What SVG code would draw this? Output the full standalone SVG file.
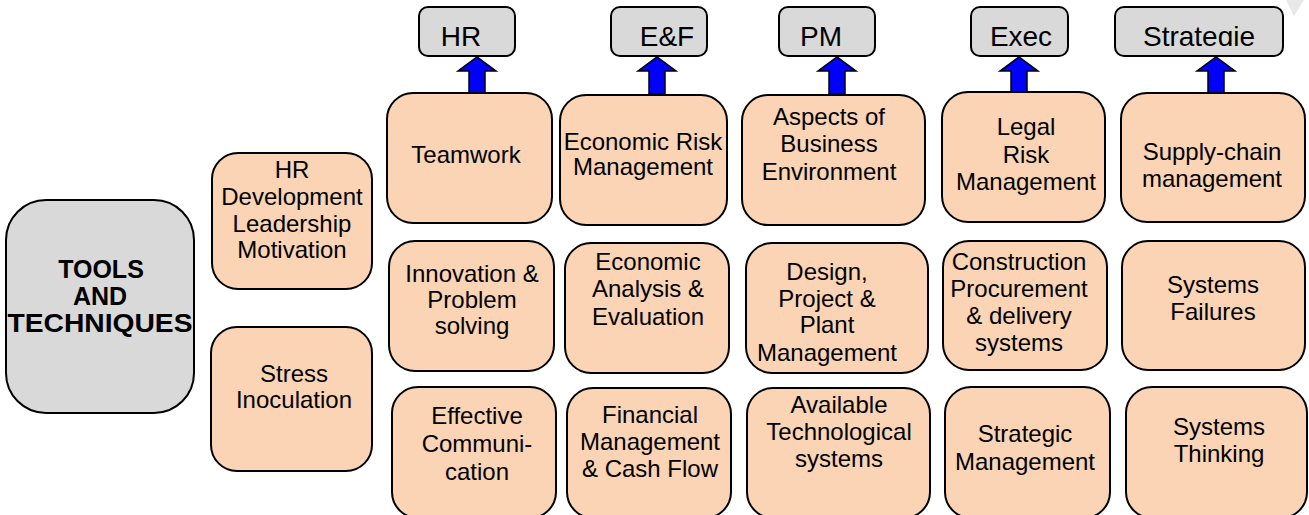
<svg xmlns="http://www.w3.org/2000/svg" width="1309" height="515" viewBox="0 0 1309 515">
<style>
.box{fill:#FAD4B4;stroke:#000;stroke-width:2}
.hdr{fill:#D9D9D9;stroke:#000;stroke-width:2}
.main{fill:#D9D9D9;stroke:#000;stroke-width:2}
.arr{fill:#0000FF;stroke:#000;stroke-width:1.5;stroke-linejoin:miter}
text{font-family:"Liberation Sans",Arial,sans-serif;fill:#000;text-anchor:middle}
.t{font-size:24px}
.h{font-size:28px}
.b{font-size:25px;font-weight:bold}
</style>
<defs>
<clipPath id="clipStrat"><rect x="1110" y="0" width="180" height="46"/></clipPath>
</defs>
<rect width="1309" height="515" fill="#fff"/>
<polygon points="1286,0 1304,0 1294,16" fill="#E8E8E8"/>

<g id="connectors">
<polygon class="arr" points="469,93 469,71 458,71 477,57 496,71 485,71 485,93"/>
<polygon class="arr" points="649,94 649,71 638,71 657,57 676,71 665,71 665,94"/>
<polygon class="arr" points="829,94 829,71 818,71 837,57 856,71 845,71 845,94"/>
<polygon class="arr" points="1011,92 1011,71 1000,71 1019,57 1038,71 1027,71 1027,92"/>
<polygon class="arr" points="1208,93 1208,71 1197,71 1216,57 1235,71 1224,71 1224,93"/>
</g>

<g id="hdr-hr"><rect class="hdr" x="419" y="7" width="96" height="49" rx="9"/><text class="h" x="461" y="46">HR</text></g>
<g id="hdr-ef"><rect class="hdr" x="611" y="7" width="96" height="49" rx="9"/><text class="h" x="667" y="46">E&amp;F</text></g>
<g id="hdr-pm"><rect class="hdr" x="779" y="7" width="96" height="49" rx="9"/><text class="h" x="821" y="46">PM</text></g>
<g id="hdr-exec"><rect class="hdr" x="971" y="7" width="97" height="49" rx="9"/><text class="h" x="1021" y="46">Exec</text></g>
<g id="hdr-strat"><rect class="hdr" x="1115" y="7" width="168" height="49" rx="9"/><text class="h" x="1199" y="46" clip-path="url(#clipStrat)">Strategie</text></g>

<g id="tools"><rect class="main" x="6" y="200" width="188" height="213" rx="40"/>
<text class="b" x="101" y="278">TOOLS</text>
<text class="b" x="100" y="305">AND</text>
<text class="b" x="100" y="332" textLength="185" lengthAdjust="spacingAndGlyphs">TECHNIQUES</text></g>

<g id="hrdev"><rect class="box" x="212" y="153" width="160" height="136" rx="26"/>
<text class="t" x="292" y="178">HR</text>
<text class="t" x="292" y="205">Development</text>
<text class="t" x="292" y="232">Leadership</text>
<text class="t" x="292" y="258">Motivation</text></g>

<g id="stress"><rect class="box" x="211" y="327" width="161" height="144" rx="26"/>
<text class="t" x="294" y="382">Stress</text>
<text class="t" x="294" y="408">Inoculation</text></g>

<g id="teamwork"><rect class="box" x="387" y="93" width="165" height="130" rx="26"/>
<text class="t" x="466" y="163">Teamwork</text></g>

<g id="innovation"><rect class="box" x="389" y="241" width="165" height="130" rx="26"/>
<text class="t" x="472" y="282">Innovation &amp;</text>
<text class="t" x="472" y="308">Problem</text>
<text class="t" x="472" y="334">solving</text></g>

<g id="effective"><rect class="box" x="392" y="387" width="164" height="131" rx="26"/>
<text class="t" x="477" y="424">Effective</text>
<text class="t" x="477" y="452">Communi-</text>
<text class="t" x="477" y="480">cation</text></g>

<g id="econrisk"><rect class="box" x="560" y="95" width="167" height="130" rx="26"/>
<text class="t" x="643" y="150">Economic Risk</text>
<text class="t" x="643" y="175">Management</text></g>

<g id="econanalysis"><rect class="box" x="565" y="243" width="164" height="130" rx="26"/>
<text class="t" x="648" y="270">Economic</text>
<text class="t" x="648" y="297">Analysis &amp;</text>
<text class="t" x="648" y="325">Evaluation</text></g>

<g id="financial"><rect class="box" x="567" y="388" width="164" height="130" rx="26"/>
<text class="t" x="650" y="423">Financial</text>
<text class="t" x="650" y="450">Management</text>
<text class="t" x="650" y="477">&amp; Cash Flow</text></g>

<g id="aspects"><rect class="box" x="742" y="95" width="183" height="130" rx="26"/>
<text class="t" x="829" y="125">Aspects of</text>
<text class="t" x="829" y="152">Business</text>
<text class="t" x="829" y="180">Environment</text></g>

<g id="design"><rect class="box" x="746" y="243" width="182" height="130" rx="26"/>
<text class="t" x="827" y="280">Design,</text>
<text class="t" x="827" y="307">Project &amp;</text>
<text class="t" x="827" y="333">Plant</text>
<text class="t" x="827" y="361">Management</text></g>

<g id="available"><rect class="box" x="747" y="388" width="183" height="130" rx="26"/>
<text class="t" x="839" y="413">Available</text>
<text class="t" x="839" y="440">Technological</text>
<text class="t" x="839" y="467">systems</text></g>

<g id="legal"><rect class="box" x="942" y="92" width="163" height="130" rx="26"/>
<text class="t" x="1026" y="135">Legal</text>
<text class="t" x="1026" y="163">Risk</text>
<text class="t" x="1026" y="190">Management</text></g>

<g id="construction"><rect class="box" x="943" y="241" width="164" height="129" rx="26"/>
<text class="t" x="1019" y="270">Construction</text>
<text class="t" x="1019" y="297">Procurement</text>
<text class="t" x="1019" y="324">&amp; delivery</text>
<text class="t" x="1019" y="351">systems</text></g>

<g id="strategic"><rect class="box" x="945" y="387" width="165" height="131" rx="26"/>
<text class="t" x="1025" y="442">Strategic</text>
<text class="t" x="1025" y="470">Management</text></g>

<g id="supply"><rect class="box" x="1121" y="93" width="184" height="129" rx="26"/>
<text class="t" x="1212" y="160">Supply-chain</text>
<text class="t" x="1212" y="187">management</text></g>

<g id="sysfail"><rect class="box" x="1122" y="241" width="183" height="129" rx="26"/>
<text class="t" x="1213" y="293">Systems</text>
<text class="t" x="1213" y="320">Failures</text></g>

<g id="systhink"><rect class="box" x="1126" y="387" width="181" height="131" rx="26"/>
<text class="t" x="1219" y="435">Systems</text>
<text class="t" x="1219" y="462">Thinking</text></g>
</svg>
